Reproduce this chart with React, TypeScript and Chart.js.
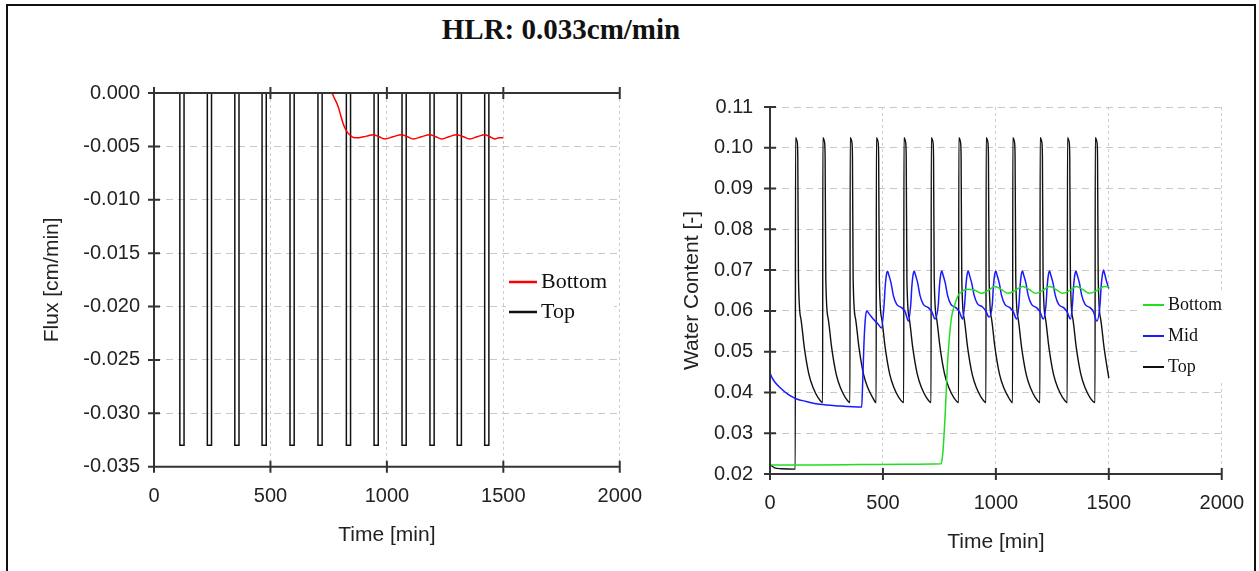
import React, { useEffect, useRef } from "react";
import { Chart, registerables } from "chart.js";

Chart.register(...registerables);

// ---------------- data ----------------
const timeTickValues = [0, 500, 1000, 1500, 2000];
const fluxTickValues = [0, -0.005, -0.01, -0.015, -0.02, -0.025, -0.03, -0.035];
const wcTickValues = [0.02, 0.03, 0.04, 0.05, 0.06, 0.07, 0.08, 0.09, 0.1, 0.11];

// Left chart: Flux [cm/min]
const fluxBottomTime = [0, 762, 775, 791, 803, 812, 823, 834, 845, 856, 880, 900, 920, 941, 966, 991, 1027, 1063, 1088, 1113, 1149, 1184, 1210, 1235, 1267, 1299, 1328, 1356, 1388, 1421, 1442, 1463, 1482, 1500];
const fluxBottomValue = [0, 0, -0.0005, -0.00128, -0.0022, -0.00285, -0.0034, -0.00378, -0.004, -0.00416, -0.00418, -0.0041, -0.004, -0.0039, -0.0041, -0.0043, -0.0041, -0.0039, -0.0041, -0.0043, -0.0041, -0.0039, -0.0041, -0.0043, -0.0041, -0.0039, -0.0041, -0.0043, -0.0041, -0.0039, -0.0041, -0.0043, -0.0042, -0.0042];

const fluxTopTime = [0,
  111, 111, 129, 129,
  229, 229, 247, 247,
  347, 347, 365, 365,
  464, 464, 482, 482,
  584, 584, 602, 602,
  704, 704, 722, 722,
  826, 826, 844, 844,
  945, 945, 963, 963,
  1065, 1065, 1083, 1083,
  1185, 1185, 1203, 1203,
  1302, 1302, 1320, 1320,
  1420, 1420, 1438, 1438,
  1500];
const fluxTopValue = [0,
  0, -0.033, -0.033, 0,
  0, -0.033, -0.033, 0,
  0, -0.033, -0.033, 0,
  0, -0.033, -0.033, 0,
  0, -0.033, -0.033, 0,
  0, -0.033, -0.033, 0,
  0, -0.033, -0.033, 0,
  0, -0.033, -0.033, 0,
  0, -0.033, -0.033, 0,
  0, -0.033, -0.033, 0,
  0, -0.033, -0.033, 0,
  0, -0.033, -0.033, 0,
  0];

// Right chart: Water Content [-]
const wcBottomTime = [0, 60, 200, 400, 600, 758, 764, 770, 775, 780, 785, 795, 804, 815, 834, 852, 871, 900, 937, 966, 996, 1025, 1054, 1085, 1119, 1148, 1176, 1207, 1238, 1267, 1296, 1327, 1357, 1385, 1414, 1447, 1480, 1500];
const wcBottomValue = [0.0222, 0.0222, 0.0222, 0.0223, 0.0224, 0.0225, 0.0245, 0.029, 0.034, 0.04, 0.0463, 0.054, 0.0585, 0.061, 0.0639, 0.0648, 0.0653, 0.0652, 0.0643, 0.065, 0.066, 0.0652, 0.0643, 0.065, 0.066, 0.0652, 0.0643, 0.065, 0.066, 0.0652, 0.0643, 0.065, 0.066, 0.0652, 0.0643, 0.065, 0.066, 0.0659];

const wcMidTime = [0, 10, 22, 44, 80, 118, 160, 221, 300, 406, 410, 416, 422, 428, 440, 460, 478, 494,
  505, 510, 516, 521, 526, 536, 546, 561, 583, 598, 613,
  623, 628, 634, 639, 644, 654, 664, 679, 701, 716, 731,
  745, 750, 756, 761, 766, 776, 786, 801, 823, 838, 853,
  862, 867, 873, 878, 883, 893, 903, 918, 940, 955, 970,
  984, 989, 995, 1000, 1005, 1015, 1025, 1040, 1062, 1077, 1092,
  1102, 1107, 1113, 1118, 1123, 1133, 1143, 1158, 1180, 1195, 1210,
  1222, 1227, 1233, 1238, 1243, 1253, 1263, 1278, 1300, 1315, 1330,
  1339, 1344, 1350, 1355, 1360, 1370, 1380, 1395, 1417, 1432, 1447,
  1461, 1466, 1472, 1477, 1482, 1492, 1500];
const wcMidValue = [0.0448, 0.0435, 0.0425, 0.0412, 0.0395, 0.0384, 0.0378, 0.0371, 0.0367, 0.0364, 0.042, 0.052, 0.058, 0.06, 0.0592, 0.0578, 0.0568, 0.0558,
  0.0615, 0.066, 0.069, 0.0697, 0.0688, 0.0668, 0.0638, 0.0616, 0.0608, 0.0598, 0.0575,
  0.0615, 0.066, 0.069, 0.0697, 0.0688, 0.0668, 0.0638, 0.0616, 0.0608, 0.0598, 0.058,
  0.0615, 0.066, 0.069, 0.0698, 0.0688, 0.0668, 0.0638, 0.0616, 0.0608, 0.0598, 0.058,
  0.0618, 0.066, 0.069, 0.0698, 0.0688, 0.0668, 0.064, 0.0618, 0.061, 0.06, 0.0585,
  0.0615, 0.066, 0.069, 0.0698, 0.0688, 0.0668, 0.0638, 0.0616, 0.0608, 0.0598, 0.058,
  0.0615, 0.066, 0.069, 0.0698, 0.0688, 0.0668, 0.0638, 0.0616, 0.0608, 0.0598, 0.058,
  0.0615, 0.066, 0.069, 0.0698, 0.0688, 0.0668, 0.0638, 0.0616, 0.0608, 0.0598, 0.058,
  0.0615, 0.066, 0.069, 0.0697, 0.0688, 0.0668, 0.0638, 0.0616, 0.0608, 0.0598, 0.0575,
  0.0615, 0.066, 0.069, 0.07, 0.069, 0.0668, 0.0655];

const wcTopTime = [0, 8, 20, 50, 112,
  113, 120, 123, 126, 137, 152, 172, 192, 212,
  233, 234, 241, 244, 247, 258, 273, 293, 313, 333,
  354, 355, 362, 365, 368, 379, 394, 414, 434, 454,
  470, 471, 478, 481, 484, 495, 510, 530, 550, 570,
  592, 593, 600, 603, 606, 617, 632, 652, 672, 692,
  713, 714, 721, 724, 727, 738, 753, 773, 793, 813,
  835, 836, 843, 846, 849, 860, 875, 895, 915, 935,
  956, 957, 964, 967, 970, 981, 996, 1016, 1036, 1056,
  1074, 1075, 1082, 1085, 1088, 1099, 1114, 1134, 1154, 1174,
  1195, 1196, 1203, 1206, 1209, 1220, 1235, 1255, 1275, 1295,
  1316, 1317, 1324, 1327, 1330, 1341, 1356, 1376, 1396, 1416,
  1439, 1440, 1447, 1450, 1453, 1464, 1479, 1500];
const wcTopValue = [0.0222, 0.022, 0.0215, 0.0213, 0.0212,
  0.1025, 0.1015, 0.098, 0.068, 0.058, 0.051, 0.0445, 0.041, 0.0388,
  0.0375, 0.1025, 0.1015, 0.098, 0.068, 0.058, 0.051, 0.0445, 0.041, 0.0388,
  0.0375, 0.1025, 0.1015, 0.098, 0.068, 0.058, 0.051, 0.0445, 0.041, 0.0388,
  0.0375, 0.1025, 0.1015, 0.098, 0.068, 0.058, 0.051, 0.0445, 0.041, 0.0388,
  0.0375, 0.1025, 0.1015, 0.098, 0.068, 0.058, 0.051, 0.0445, 0.041, 0.0388,
  0.0375, 0.1025, 0.1015, 0.098, 0.068, 0.058, 0.051, 0.0445, 0.041, 0.0388,
  0.0375, 0.1025, 0.1015, 0.098, 0.068, 0.058, 0.051, 0.0445, 0.041, 0.0388,
  0.0375, 0.1025, 0.1015, 0.098, 0.068, 0.058, 0.051, 0.0445, 0.041, 0.0388,
  0.0375, 0.1025, 0.1015, 0.098, 0.068, 0.058, 0.051, 0.0445, 0.041, 0.0388,
  0.0375, 0.1025, 0.1015, 0.098, 0.068, 0.058, 0.051, 0.0445, 0.041, 0.0388,
  0.0375, 0.1025, 0.1015, 0.098, 0.068, 0.058, 0.051, 0.0445, 0.041, 0.0388,
  0.0375, 0.1025, 0.1015, 0.098, 0.068, 0.058, 0.051, 0.0435];

// ---------------- styling helpers ----------------
const SANS = "'Liberation Sans', Arial, sans-serif";
const SERIF = "'Liberation Serif', 'Times New Roman', serif";
const TEXT = "#222";

function toPoints(t: number[], v: number[]) {
  return t.map((x, i) => ({ x, y: v[i] }));
}

function lineDs(label: string, t: number[], v: number[], color: string, width: number, smooth: boolean) {
  return {
    label,
    data: toPoints(t, v),
    borderColor: color,
    backgroundColor: color,
    borderWidth: width,
    pointRadius: 0,
    fill: false,
    tension: 0,
    cubicInterpolationMode: smooth ? "monotone" : "default",
    parsing: false,
  };
}

const crossAxesPlugin = {
  id: "crossAxes",
  afterDatasetsDraw(chart: any, _a: any, opts: any) {
    const { ctx, chartArea: a, scales } = chart;
    const xs = scales.x;
    const ys = scales.y;
    const L = opts.tick;
    ctx.save();
    ctx.setLineDash([]);
    ctx.strokeStyle = opts.color;
    ctx.lineWidth = opts.width;
    ctx.beginPath();
    ctx.moveTo(a.left, a.top);
    ctx.lineTo(a.left, a.bottom);
    ctx.moveTo(a.left, a.bottom);
    ctx.lineTo(a.right, a.bottom);
    for (const t of ys.ticks) {
      const p = ys.getPixelForValue(t.value);
      ctx.moveTo(a.left - L, p);
      ctx.lineTo(a.left + L, p);
    }
    for (const t of xs.ticks) {
      const p = xs.getPixelForValue(t.value);
      ctx.moveTo(p, a.bottom - L);
      ctx.lineTo(p, a.bottom + L);
    }
    if (opts.top) {
      ctx.moveTo(a.left, a.top);
      ctx.lineTo(a.right, a.top);
      for (const t of xs.ticks) {
        const p = xs.getPixelForValue(t.value);
        ctx.moveTo(p, a.top - L);
        ctx.lineTo(p, a.top + L);
      }
    }
    ctx.stroke();
    ctx.restore();
  },
};

const boxLegendPlugin = {
  id: "boxLegend",
  beforeDatasetsDraw(chart: any, _a: any, o: any) {
    const { ctx } = chart;
    ctx.save();
    ctx.fillStyle = "#fff";
    ctx.fillRect(o.box[0], o.box[1], o.box[2] - o.box[0], o.box[3] - o.box[1]);
    ctx.restore();
  },
  afterDraw(chart: any, _a: any, o: any) {
    const { ctx } = chart;
    ctx.save();
    ctx.font = o.font;
    ctx.textBaseline = "middle";
    ctx.textAlign = "left";
    chart.data.datasets.forEach((ds: any, i: number) => {
      const y = o.y + i * o.dy;
      ctx.strokeStyle = ds.borderColor;
      ctx.lineWidth = o.lineWidth;
      ctx.beginPath();
      ctx.moveTo(o.x, y);
      ctx.lineTo(o.x + o.len, y);
      ctx.stroke();
      ctx.fillStyle = "#111";
      ctx.fillText(ds.label, o.textX, y);
    });
    ctx.restore();
  },
};

function makeScales(p: any) {
  const font = { family: SANS, size: 20 };
  const tfont = { family: SANS, size: 21 };
  return {
    x: {
      type: "linear",
      min: 0,
      max: 2000,
      afterBuildTicks: (s: any) => {
        s.ticks = timeTickValues.map((v) => ({ value: v }));
      },
      afterFit: (s: any) => {
        s.height = p.xHeight;
      },
      ticks: { color: TEXT, font, padding: p.xPad, maxRotation: 0, callback: (v: any) => String(v) },
      grid: { color: "#cdcdcd", lineWidth: 1, drawTicks: false },
      border: { display: false, dash: [3, 3] },
      title: { display: true, text: "Time [min]", color: TEXT, font: tfont, padding: { top: 0, bottom: p.xTitlePad } },
    },
    y: {
      type: "linear",
      min: p.yMin,
      max: p.yMax,
      afterBuildTicks: (s: any) => {
        s.ticks = p.yTicks.map((v: number) => ({ value: v }));
      },
      afterFit: (s: any) => {
        s.width = p.yWidth;
      },
      ticks: {
        color: TEXT,
        font,
        padding: p.yPad,
        callback: (v: any) => (Math.abs(v) < 1e-9 ? 0 : Number(v)).toFixed(p.decimals),
      },
      grid: { color: "#c8c8c8", lineWidth: 1, drawTicks: false },
      border: { display: false, dash: [7, 5] },
      title: { display: true, text: p.yTitle, color: TEXT, font: tfont, padding: { top: p.yTitlePad, bottom: 0 } },
    },
  };
}

function fluxConfig(): any {
  return {
    type: "line",
    data: {
      datasets: [
        lineDs("Bottom", fluxBottomTime, fluxBottomValue, "#ff0000", 1.5, true),
        lineDs("Top", fluxTopTime, fluxTopValue, "#111111", 1.5, false),
      ],
    },
    options: {
      animation: false,
      responsive: false,
      devicePixelRatio: 1,
      layout: { padding: { top: 43, right: 30, bottom: 0, left: 0 } },
      plugins: {
        legend: { display: false },
        tooltip: { enabled: false },
        crossAxes: { color: "#333", width: 2, tick: 6, top: true },
        boxLegend: { box: [506, 212, 614, 280], x: 509, len: 28, textX: 541, y: 232, dy: 30, lineWidth: 2.5, font: `22px ${SERIF}` },
      },
      scales: makeScales({
        xHeight: 103.3, xPad: 18, xTitlePad: 22,
        yMin: -0.035, yMax: 0, yTicks: fluxTickValues, yWidth: 154, yPad: 14, decimals: 3,
        yTitle: "Flux [cm/min]", yTitlePad: 39.4,
      }),
    },
    plugins: [crossAxesPlugin, boxLegendPlugin],
  };
}

function wcConfig(): any {
  return {
    type: "line",
    data: {
      datasets: [
        lineDs("Bottom", wcBottomTime, wcBottomValue, "#22dd22", 1.5, true),
        lineDs("Mid", wcMidTime, wcMidValue, "#1a1aff", 1.5, true),
        lineDs("Top", wcTopTime, wcTopValue, "#111111", 1.4, true),
      ],
    },
    options: {
      animation: false,
      responsive: false,
      devicePixelRatio: 1,
      layout: { padding: { top: 57, right: 30, bottom: 0, left: 0 } },
      plugins: {
        legend: { display: false },
        tooltip: { enabled: false },
        crossAxes: { color: "#333", width: 2, tick: 6, top: false },
        boxLegend: { box: [487, 243, 576, 332], x: 493, len: 21, textX: 518, y: 255, dy: 31, lineWidth: 2, font: `18px ${SERIF}` },
      },
      scales: makeScales({
        xHeight: 96, xPad: 17, xTitlePad: 15.4,
        yMin: 0.02, yMax: 0.11, yTicks: wcTickValues, yWidth: 120, yPad: 17, decimals: 2,
        yTitle: "Water Content [-]", yTitlePad: 29.4,
      }),
    },
    plugins: [crossAxesPlugin, boxLegendPlugin],
  };
}

function ChartCanvas(props: { make: () => any; left: number; top: number; w: number; h: number }) {
  const ref = useRef<HTMLCanvasElement | null>(null);
  useEffect(() => {
    const chart = new Chart(ref.current as HTMLCanvasElement, props.make());
    return () => chart.destroy();
  }, []);
  return (
    <canvas
      ref={ref}
      width={props.w}
      height={props.h}
      style={{ position: "absolute", left: props.left, top: props.top, width: props.w, height: props.h }}
    />
  );
}

export default function App() {
  return (
    <div style={{ position: "fixed", left: 0, top: 0, width: 1259, height: 571, overflow: "hidden", background: "#fff" }}>
      <div
        style={{
          position: "absolute",
          left: 6,
          top: 4,
          width: 1250,
          height: 600,
          border: "2px solid #111",
          boxSizing: "border-box",
        }}
      />
      <div
        style={{
          position: "absolute",
          left: 0,
          top: 13,
          width: 1122,
          textAlign: "center",
          fontFamily: SERIF,
          fontWeight: "bold",
          fontSize: 29,
          lineHeight: "32px",
          color: "#111",
        }}
      >
        HLR: 0.033cm/min
      </div>
      <ChartCanvas make={fluxConfig} left={0} top={50} w={660} h={520} />
      <ChartCanvas make={wcConfig} left={650} top={50} w={611} h={520} />
    </div>
  );
}
